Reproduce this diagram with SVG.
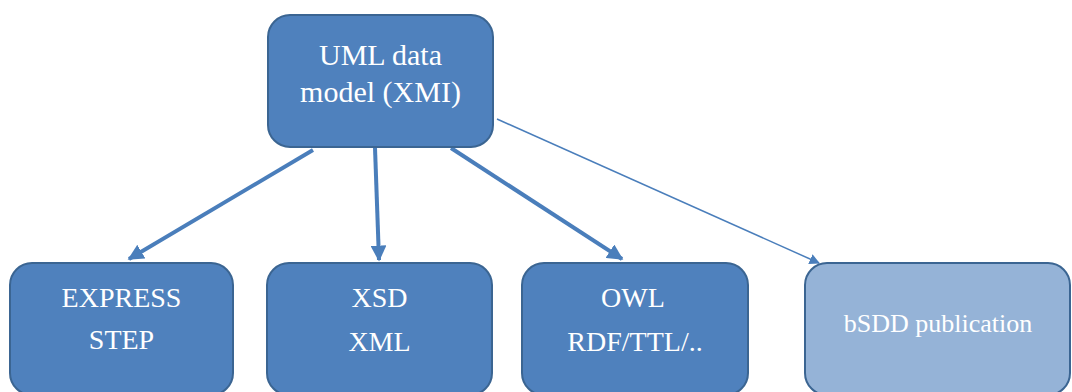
<svg xmlns="http://www.w3.org/2000/svg" width="1072" height="392" viewBox="0 0 1072 392">
  <style>
    .box { fill: #4f81bd; stroke: #3b6592; stroke-width: 2; }
    .box.light { fill: #95b3d7; }
    .label { font-family: "Liberation Serif", "Times New Roman", serif; fill: #ffffff; text-anchor: middle; }
    .edge { stroke: #4a7ebb; fill: none; }
    .thick { stroke-width: 4; }
    .thin { stroke-width: 1.5; }
  </style>
  <defs>
    <marker id="headThick" viewBox="0 0 10 10" refX="9" refY="5" markerWidth="4" markerHeight="4" orient="auto" markerUnits="strokeWidth">
      <path d="M0,0 L10,5 L0,10 z" fill="#4a7ebb"/>
    </marker>
    <marker id="headThin" viewBox="0 0 10 10" refX="9" refY="5" markerWidth="7" markerHeight="7" orient="auto" markerUnits="strokeWidth">
      <path d="M0,0 L10,5 L0,10 z" fill="#4a7ebb"/>
    </marker>
  </defs>

  <rect width="1072" height="392" fill="#ffffff"/>

  <g id="connectors">
    <line class="edge thick" x1="313" y1="150" x2="129" y2="259" marker-end="url(#headThick)"/>
    <line class="edge thick" x1="375" y1="148" x2="379" y2="260" marker-end="url(#headThick)"/>
    <line class="edge thick" x1="451" y1="148" x2="622" y2="259" marker-end="url(#headThick)"/>
    <line class="edge thin" x1="497" y1="119" x2="819" y2="263" marker-end="url(#headThin)"/>
  </g>

  <g id="uml">
    <rect class="box" x="268" y="15" width="225" height="132" rx="22"/>
    <text class="label" x="380.5" y="65" font-size="30">UML data</text>
    <text class="label" x="380.5" y="102" font-size="30">model (XMI)</text>
  </g>

  <g id="express">
    <rect class="box" x="10" y="263" width="223" height="132" rx="22"/>
    <text class="label" x="121.5" y="307" font-size="28">EXPRESS</text>
    <text class="label" x="121.5" y="349" font-size="28">STEP</text>
  </g>

  <g id="xsd">
    <rect class="box" x="267" y="263" width="225" height="132" rx="22"/>
    <text class="label" x="379.5" y="307" font-size="28">XSD</text>
    <text class="label" x="379.5" y="351" font-size="28">XML</text>
  </g>

  <g id="owl">
    <rect class="box" x="522" y="263" width="226" height="132" rx="22"/>
    <text class="label" x="633" y="307" font-size="28">OWL</text>
    <text class="label" x="635" y="351" font-size="28">RDF/TTL/..</text>
  </g>

  <g id="bsdd">
    <rect class="box light" x="805" y="263" width="265" height="132" rx="22"/>
    <text class="label" x="938" y="332" font-size="26">bSDD publication</text>
  </g>
</svg>
